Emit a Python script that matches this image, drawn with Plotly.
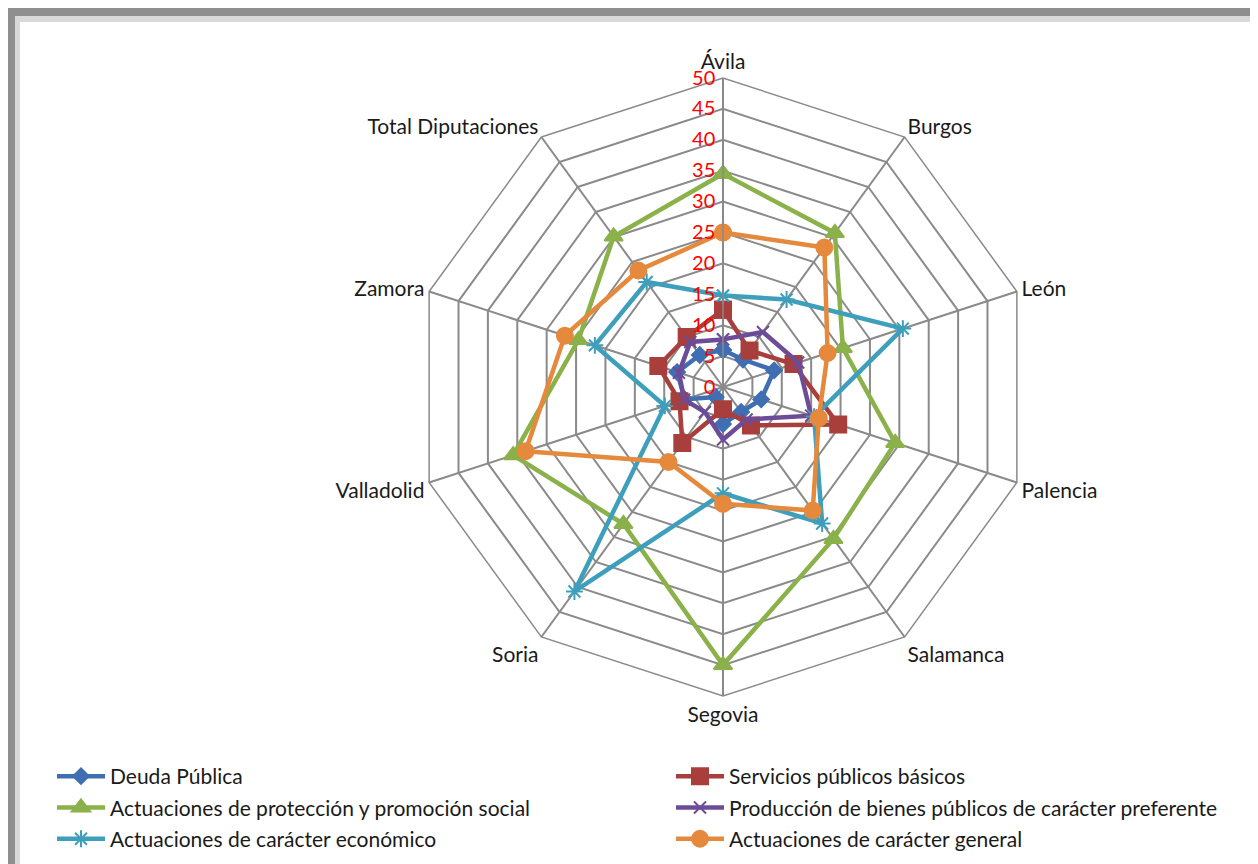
import plotly.graph_objects as go

categories = ["Ávila", "Burgos", "León", "Palencia", "Salamanca", "Segovia",
              "Soria", "Valladolid", "Zamora", "Total Diputaciones"]

deuda = [6.0, 5.5, 8.7, 6.5, 5.0, 6.0, 2.0, 6.5, 7.8, 6.4]
servicios = [12.5, 7.3, 12.0, 19.6, 7.7, 3.6, 11.2, 7.4, 11.0, 10.0]
proteccion = [34.5, 30.8, 20.4, 29.3, 30.4, 45.0, 27.4, 35.7, 24.6, 30.1]
produccion = [7.7, 11.0, 12.8, 15.0, 6.5, 8.5, 5.0, 6.6, 7.5, 9.0]
economico = [14.8, 17.5, 30.6, 15.5, 27.3, 17.2, 40.9, 9.9, 21.8, 21.0]
general = [25.0, 27.9, 17.8, 16.3, 24.7, 18.9, 15.0, 33.6, 26.9, 23.3]

series_names = ["Deuda Pública", "Servicios públicos básicos",
                "Actuaciones de protección y promoción social",
                "Producción de bienes públicos de carácter preferente",
                "Actuaciones de carácter económico",
                "Actuaciones de carácter general"]
series_values = [deuda, servicios, proteccion, produccion, economico, general]
colors = ["#3F6FB2", "#A83F3C", "#8AB14A", "#6C4C97", "#3D9FBB", "#E5893D"]
symbols = ["diamond", "square", "triangle-up", "x-thin", "asterisk", "circle"]
sizes = [12, 16, 16, 12, 14, 16]
legend_ids = ["legend", "legend2", "legend", "legend2", "legend", "legend2"]

FONT = "Lato"

fig = go.Figure()
for i, (name, vals) in enumerate(zip(series_names, series_values)):
    fig.add_trace(go.Scatterpolar(
        r=vals + [vals[0]],
        theta=categories + [categories[0]],
        mode="lines+markers",
        name=name,
        line=dict(color=colors[i], width=4.5),
        marker=dict(symbol=symbols[i], size=sizes[i], color=colors[i],
                    line=dict(color=colors[i], width=2)),
        legend=legend_ids[i],
        legendgroup=name,
    ))

W, H = 1258, 864
cx, cy, R = 715, 379, 309

fig.update_layout(
    width=W, height=H,
    margin=dict(l=0, r=0, t=0, b=0),
    paper_bgcolor="white",
    font=dict(family=FONT, size=21, color="#1a1a1a"),
    polar=dict(
        domain=dict(x=[(cx - R) / W, (cx + R) / W],
                    y=[(H - cy - R) / H, (H - cy + R) / H]),
        bgcolor="white",
        gridshape="linear",
        angularaxis=dict(
            direction="clockwise", rotation=90,
            showline=True, linecolor="#8a8a8a", linewidth=1.5,
            gridcolor="#8a8a8a", gridwidth=1.5,
            tickfont=dict(family=FONT, size=21, color="#1a1a1a"),
            ticks="",
        ),
        radialaxis=dict(
            range=[0, 50], dtick=5, angle=90, side="counterclockwise",
            tickangle=90,
            showline=True, linecolor="#8a8a8a", linewidth=1.5,
            gridcolor="#8a8a8a", gridwidth=1.5,
            tickfont=dict(family=FONT, size=20, color="red"),
            ticks="",
        ),
    ),
    legend=dict(x=44 / W, y=1 - 748 / H, xanchor="left", yanchor="top",
                font=dict(family=FONT, size=21, color="#1a1a1a"),
                itemwidth=48,
                tracegroupgap=1, bgcolor="rgba(0,0,0,0)"),
    legend2=dict(x=663 / W, y=1 - 748 / H, xanchor="left", yanchor="top",
                 font=dict(family=FONT, size=21, color="#1a1a1a"),
                 itemwidth=48,
                 tracegroupgap=1, bgcolor="rgba(0,0,0,0)"),
    shapes=[
        dict(type="rect", xref="paper", yref="paper", x0=0, x1=1,
             y0=1 - 8 / H, y1=1, fillcolor="#8f8f8f", line=dict(width=0), layer="above"),
        dict(type="rect", xref="paper", yref="paper", x0=0, x1=1,
             y0=1 - 14 / H, y1=1 - 8 / H, fillcolor="#d9d9d9", line=dict(width=0), layer="above"),
        dict(type="rect", xref="paper", yref="paper", x0=0, x1=7 / W,
             y0=0, y1=1, fillcolor="#8f8f8f", line=dict(width=0), layer="above"),
        dict(type="rect", xref="paper", yref="paper", x0=7 / W, x1=12 / W,
             y0=0, y1=1 - 8 / H, fillcolor="#d9d9d9", line=dict(width=0), layer="above"),
    ],
)

fig.write_html("out.html")
